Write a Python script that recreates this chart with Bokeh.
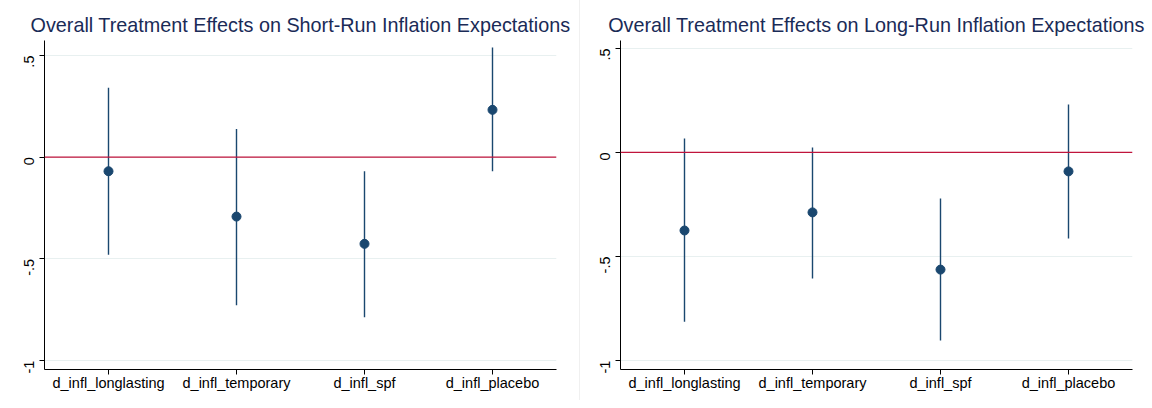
import math
from bokeh.plotting import figure
from bokeh.layouts import row
from bokeh.models import FixedTicker, Span, ColumnDataSource
from bokeh.embed import file_html
from bokeh.resources import INLINE

categories = ["d_infl_longlasting", "d_infl_temporary", "d_infl_spf", "d_infl_placebo"]
y_ticks = [-1, -0.5, 0, 0.5]
y_tick_labels = ["-1", "-.5", "0", ".5"]

sr_est = [-0.069, -0.292, -0.426, 0.233]
sr_lo = [-0.480, -0.728, -0.787, -0.069]
sr_hi = [0.342, 0.139, -0.069, 0.540]

lr_est = [-0.375, -0.288, -0.563, -0.091]
lr_lo = [-0.813, -0.606, -0.904, -0.413]
lr_hi = [0.067, 0.024, -0.221, 0.231]

titles = ["Overall Treatment Effects on Short-Run Inflation Expectations",
          "Overall Treatment Effects on Long-Run Inflation Expectations"]

NAVY = "#1a476f"
FONT = "Liberation Sans"


def make_panel(title, est, lo, hi, yr, width, bl, br):
    xs = list(range(1, len(categories) + 1))
    src = ColumnDataSource(dict(x=xs, est=est, lo=lo, hi=hi))
    p = figure(width=width, height=400, x_range=(0.5, 4.5), y_range=yr,
               output_backend="svg", toolbar_location=None,
               min_border_left=bl, min_border_right=br,
               min_border_top=40, min_border_bottom=31)
    p.title.text = title
    p.title.align = "center"
    p.title.text_font = FONT
    p.title.text_font_size = "19.8px"
    p.title.text_font_style = "normal"
    p.title.text_color = "#1a2b57"
    p.title.standoff = 10
    p.outline_line_color = None
    p.background_fill_color = "white"
    p.border_fill_color = "white"

    p.xgrid.grid_line_color = None
    p.ygrid.grid_line_color = "#e8f0f0"
    p.ygrid.grid_line_width = 1
    p.yaxis.ticker = FixedTicker(ticks=y_ticks)
    p.yaxis.major_label_overrides = {t: l for t, l in zip(y_ticks, y_tick_labels)}
    p.xaxis.ticker = FixedTicker(ticks=xs)
    p.xaxis.major_label_overrides = {x: c for x, c in zip(xs, categories)}

    for ax in (p.xaxis, p.yaxis):
        ax.axis_line_color = "black"
        ax.axis_line_width = 1
        ax.major_tick_line_color = "black"
        ax.major_tick_out = 5
        ax.major_tick_in = 0
        ax.minor_tick_line_color = None
        ax.major_label_text_font = FONT
        ax.major_label_text_font_size = "14.5px"
        ax.major_label_text_color = "black"
    p.yaxis.major_label_orientation = math.pi / 2
    p.yaxis.major_label_standoff = 10
    p.xaxis.major_label_standoff = 0

    p.add_layout(Span(location=0, dimension="width", line_color="#c0143c", line_width=1.2))
    p.segment(x0="x", y0="lo", x1="x", y1="hi", source=src, line_color=NAVY, line_width=1.4)
    p.scatter(x="x", y="est", source=src, size=9, fill_color=NAVY, line_color=NAVY)
    return p


p1 = make_panel(titles[0], sr_est, sr_lo, sr_hi, (-1.044, 0.574), 579, 44, 23)
p2 = make_panel(titles[1], lr_est, lr_lo, lr_hi, (-1.043, 0.538), 572, 40, 20)
p2.styles = {"border-left": "1px solid #f0f0f0"}

layout = row(p1, p2, spacing=0)
open("out.html", "w").write(file_html(layout, INLINE))
